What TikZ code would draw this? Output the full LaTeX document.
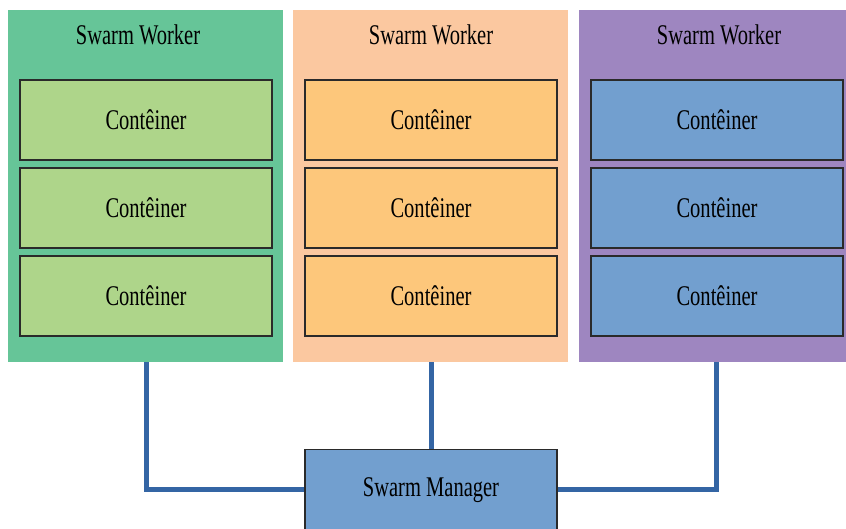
\documentclass[tikz,border=0pt]{standalone}
\usepackage{fontspec}
\setmainfont{Liberation Serif}[FakeStretch=0.72]
\definecolor{wgreen}{HTML}{66C598}
\definecolor{cgreen}{HTML}{AED58A}
\definecolor{worange}{HTML}{FBC8A0}
\definecolor{corange}{HTML}{FDC77B}
\definecolor{wpurple}{HTML}{9E86C0}
\definecolor{cblue}{HTML}{729FCF}
\definecolor{linkblue}{HTML}{3465A4}
\definecolor{edge}{HTML}{2A2A2A}
\begin{document}
\begin{tikzpicture}[x=1pt,y=-1pt,
  lbl/.style={font=\fontsize{28.5}{30}\selectfont, text=black},
  worker/.style={draw=none, inner sep=0pt},
  box/.style={draw=edge, line width=1.4pt, minimum width=252pt, minimum height=80pt, inner sep=0pt, lbl},
  link/.style={draw=linkblue, line width=5pt}]
\useasboundingbox (0,0) rectangle (846,528);
\fill[white] (0,0) rectangle (846,528);

% worker panels
\fill[wgreen]  (8,10)   rectangle (283,362);
\fill[worange] (293,10) rectangle (568,362);
\fill[wpurple] (579,10) rectangle (850,362);
\coordinate (w1) at (146,362);
\coordinate (w2) at (431,362);
\coordinate (w3) at (716,362);

\node[lbl] (t1) at (138,35) {Swarm Worker};
\node[lbl] (t2) at (431,35) {Swarm Worker};
\node[lbl] (t3) at (719,35) {Swarm Worker};

% containers
\foreach \y [count=\i] in {120,208,296} {
  \node[box, fill=cgreen]  (g\i) at (146,\y) {Contêiner};
  \node[box, fill=corange] (o\i) at (431,\y) {Contêiner};
  \node[box, fill=cblue]   (b\i) at (717,\y) {Contêiner};
}

% manager
\node[box, fill=cblue, minimum height=86pt, anchor=north] (m) at (431,449) {};
\node[lbl] (mt) at (431,490) {Swarm Manager};

% links
\coordinate (c1) at (146,489);
\coordinate (c3) at (716,489);
\draw[link] (w1) -- (c1) -- (m.west |- c1);
\draw[link] (w3) -- (c3) -- (m.east |- c3);
\draw[link] (w2) -- (m.north);
\end{tikzpicture}
\end{document}
